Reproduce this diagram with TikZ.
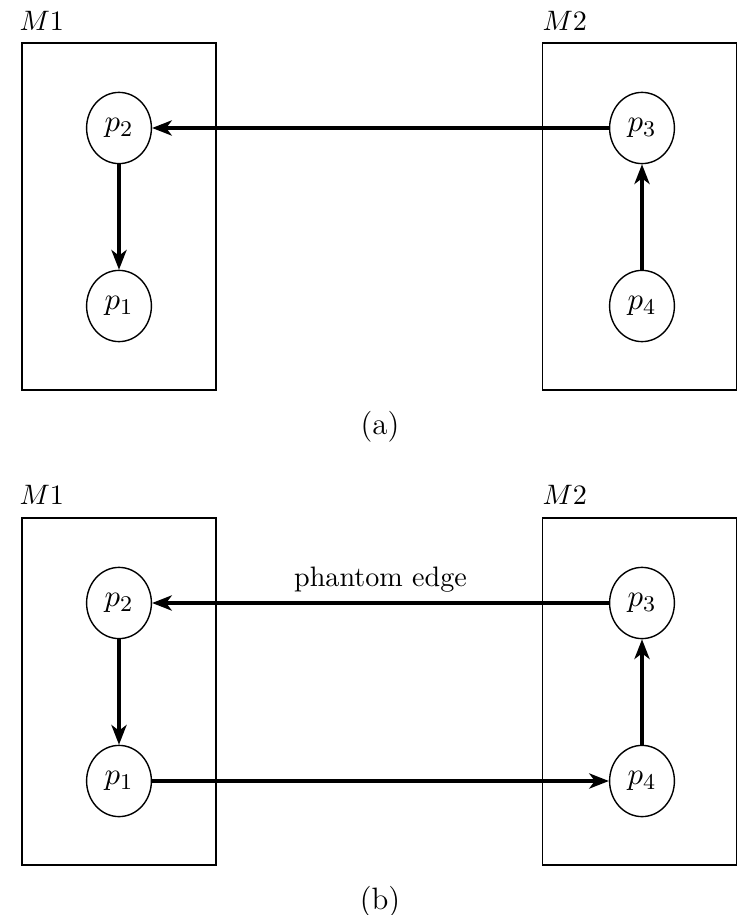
\documentclass[tikz,border=0pt]{standalone}
\usetikzlibrary{shapes.geometric, arrows.meta, positioning}

\begin{document}
\begin{tikzpicture}[
  x=0.0125cm, y=-0.0125cm,
  machine/.style={rectangle, draw, line width=0.55pt,
    minimum width=2.42cm, minimum height=4.34cm, inner sep=0pt},
  proc/.style={ellipse, draw, line width=0.5pt,
    minimum width=0.81cm, minimum height=0.89cm, inner sep=0pt,
    font=\fontsize{11}{13}\selectfont},
  mlabel/.style={anchor=base west, inner sep=0pt, font=\normalsize},
  caption/.style={font=\fontsize{11}{13}\selectfont},
  msg/.style={-{Stealth[length=7pt, width=5.4pt, inset=2pt]}, line width=1.15pt},
]
  \useasboundingbox (0,0) rectangle (738,915);

  % (a) machines
  \node[machine] (m1a) at (119,216.5) {};
  \node[machine] (m2a) at (639.5,216.5) {};
  \node[mlabel] (m1alab) at (19,31) {$M1$};
  \node[mlabel] (m2alab) at (542,31) {$M2$};

  % (a) processes
  \node[proc] (p2a) at (119,128) {$p_2$};
  \node[proc] (p1a) at (119,306) {$p_1$};
  \node[proc] (p3a) at (642,128) {$p_3$};
  \node[proc] (p4a) at (642,306) {$p_4$};

  \draw[msg] (p3a) -- (p2a);
  \draw[msg] (p2a) -- (p1a);
  \draw[msg] (p4a) -- (p3a);

  \node[caption] (capa) at (380,427) {(a)};

  % (b) machines
  \node[machine] (m1b) at (119,691.5) {};
  \node[machine] (m2b) at (639.5,691.5) {};
  \node[mlabel] (m1blab) at (19,504) {$M1$};
  \node[mlabel] (m2blab) at (542,504) {$M2$};

  % (b) processes
  \node[proc] (p2b) at (119,603) {$p_2$};
  \node[proc] (p1b) at (119,781) {$p_1$};
  \node[proc] (p3b) at (642,603) {$p_3$};
  \node[proc] (p4b) at (642,781) {$p_4$};

  \draw[msg] (p3b) -- node[above, font=\normalsize] {phantom edge} (p2b);
  \draw[msg] (p2b) -- (p1b);
  \draw[msg] (p4b) -- (p3b);
  \draw[msg] (p1b) -- (p4b);

  \node[caption] (capb) at (380,902) {(b)};
\end{tikzpicture}
\end{document}
